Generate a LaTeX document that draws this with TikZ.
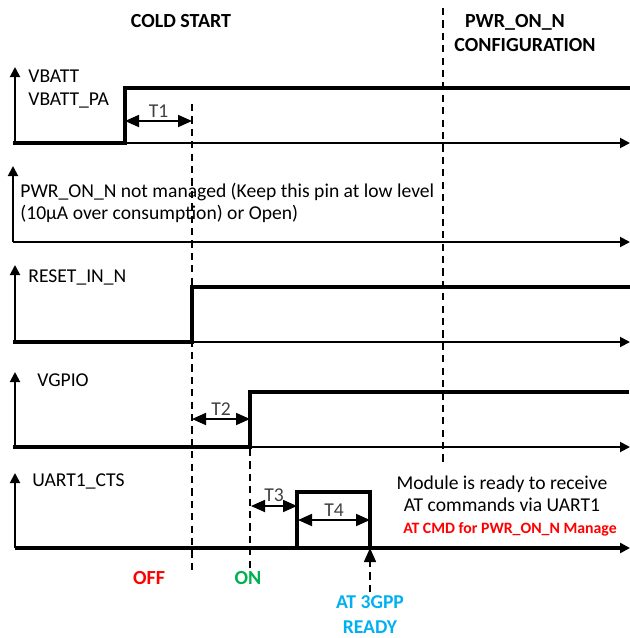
\documentclass[tikz,border=0pt]{standalone}
\usepackage{fontspec}
\setmainfont{Carlito}
\usepackage{tikz}
\usetikzlibrary{arrows.meta,calc}
\usepackage{tkz-euclide}
\usepackage{xcolor}
\definecolor{OffRed}{HTML}{FF0000}
\definecolor{OnGreen}{HTML}{00B050}
\definecolor{ReadyCyan}{HTML}{00B0F0}
\definecolor{SpanGray}{HTML}{404040}
\tikzset{
    sig/.style={line width=1.6pt,line join=miter,line cap=rect},
    axis/.style={line width=0.95pt,-{Triangle[length=5pt,width=5pt]}},
    guide/.style={line width=0.75pt,dash pattern=on 3.6pt off 2.6pt},
    timespan/.style={line width=0.9pt,{Triangle[length=7pt,width=6pt]}-{Triangle[length=7pt,width=6pt]}},
    spanlabel/.style={text=SpanGray,inner sep=1.5pt},
    signame/.style={anchor=west,align=left,inner sep=0pt}
}

\begin{document}
\begin{tikzpicture}[x=0.5pt,y=-0.5pt,font=\fontsize{9.8}{11.2}\selectfont]
    \useasboundingbox (0,0) rectangle (629,638);
    % titles
    \node[font=\bfseries] (cold) at (181,21) {COLD START};
    \node[font=\bfseries,align=center] (config) at (525,33) {PWR\_ON\_N\hspace*{10pt}\\CONFIGURATION};
    % VBATT
    \tkzDefPoint(15,143){Ao}
    \tkzDefPoint(15,67){Ay}
    \tkzDefPoint(630,143){Ax}
    \tkzDefPoint(125,143){Alo}
    \tkzDefPoint(125,88){Ahi}
    \tkzDefPoint(629,88){Aend}
    \draw[axis] (Ao) -- (Ay);
    \draw[axis] (Ao) -- (Ax);
    \draw[sig] (Ao) -- (Alo) -- (Ahi) -- (Aend);
    \node[signame] (vbatt) at (28,89) {VBATT\\VBATT\_PA};
    % PWR_ON_N
    \tkzDefPoint(13,242){Bo}
    \tkzDefPoint(13,166){By}
    \tkzDefPoint(630,242){Bx}
    \draw[axis] (Bo) -- (By);
    \draw[axis] (Bo) -- (Bx);
    \node[signame] (pwron) at (20,203) {PWR\_ON\_N not managed (Keep this pin at low level\\(10µA over consumption) or Open)};
    % RESET_IN_N
    \tkzDefPoint(15,342){Co}
    \tkzDefPoint(15,265){Cy}
    \tkzDefPoint(630,342){Cx}
    \tkzDefPoint(192,342){Clo}
    \tkzDefPoint(192,287){Chi}
    \tkzDefPoint(629,287){Cend}
    \draw[axis] (Co) -- (Cy);
    \draw[axis] (Co) -- (Cx);
    \draw[sig] (Co) -- (Clo) -- (Chi) -- (Cend);
    \node[signame] (reset) at (28,277) {RESET\_IN\_N};
    % VGPIO
    \tkzDefPoint(15,447){Do}
    \tkzDefPoint(15,372){Dy}
    \tkzDefPoint(630,447){Dx}
    \tkzDefPoint(250,447){Dlo}
    \tkzDefPoint(250,392){Dhi}
    \tkzDefPoint(627,392){Dend}
    \draw[axis] (Do) -- (Dy);
    \draw[axis] (Do) -- (Dx);
    \draw[sig] (Do) -- (Dlo) -- (Dhi) -- (Dend);
    \node[signame] (vgpio) at (37,380) {VGPIO};
    % UART1_CTS
    \tkzDefPoint(15,548){Eo}
    \tkzDefPoint(15,473){Ey}
    \tkzDefPoint(630,548){Ex}
    \tkzDefPoint(297,548){Elo}
    \tkzDefPoint(297,492){Ehi}
    \tkzDefPoint(370,492){Etop}
    \tkzDefPoint(370,548){Edown}
    \draw[axis] (Eo) -- (Ey);
    \draw[axis,line width=1.6pt] (Eo) -- (Ex);
    \draw[sig] (Elo) -- (Ehi) -- (Etop) -- (Edown);
    \node[signame] (uart) at (32,481) {UART1\_CTS};
    % guides
    \tkzDefPoint(443,8){Ga}
    \tkzDefPoint(443,466){Gb}
    \tkzDefPoint(192,104){Ha}
    \tkzDefPoint(192,572){Hb}
    \tkzDefPoint(250,449){Ka}
    \tkzDefPoint(250,570){Kb}
    \tkzDefPoint(370,592){Ra}
    \draw[guide] (Ga) -- (Gb);
    \draw[guide] (Ha) -- (Hb);
    \draw[guide] (Ka) -- (Kb);
    \draw[guide,-{Triangle[length=7pt,width=6pt]}] (Ra) -- (Edown);
    % delays
    \tkzDefPoint(192,121){Tone}
    \tkzDefPoint(192,419){Ttwo}
    \tkzDefPoint(250,419){Ttwoend}
    \tkzDefPoint(251,506){Tthree}
    \tkzDefPoint(297,506){Tthreeend}
    \tkzDefPoint(298,520){Tfour}
    \tkzDefPoint(370,520){Tfourend}
    \draw[timespan] (Ahi |- Tone) -- (Tone) node[midway,above,spanlabel] (t1) {T1};
    \draw[timespan] (Ttwo) -- (Ttwoend) node[midway,above,spanlabel] (t2) {T2};
    \draw[timespan] (Tthree) -- (Tthreeend) node[midway,above,spanlabel] (t3) {T3};
    \draw[timespan] (Tfour) -- (Tfourend) node[midway,above,spanlabel] (t4) {T4};
    % notes
    \node[align=center] (ready) at (502,494) {Module is ready to receive\\AT commands via UART1};
    \node[text=OffRed,font=\bfseries\fontsize{7.9}{9}\selectfont] (atcmd) at (510,529) {AT CMD for PWR\_ON\_N Manage};
    \node[text=OffRed,font=\bfseries] (off) at (149,578) {OFF};
    \node[text=OnGreen,font=\bfseries] (on) at (248,578) {ON};
    \node[text=ReadyCyan,align=center,font=\bfseries\fontsize{9.8}{12.5}\selectfont] (at3gpp) at (370,615) {AT 3GPP\\READY};
\end{tikzpicture}
\end{document}
